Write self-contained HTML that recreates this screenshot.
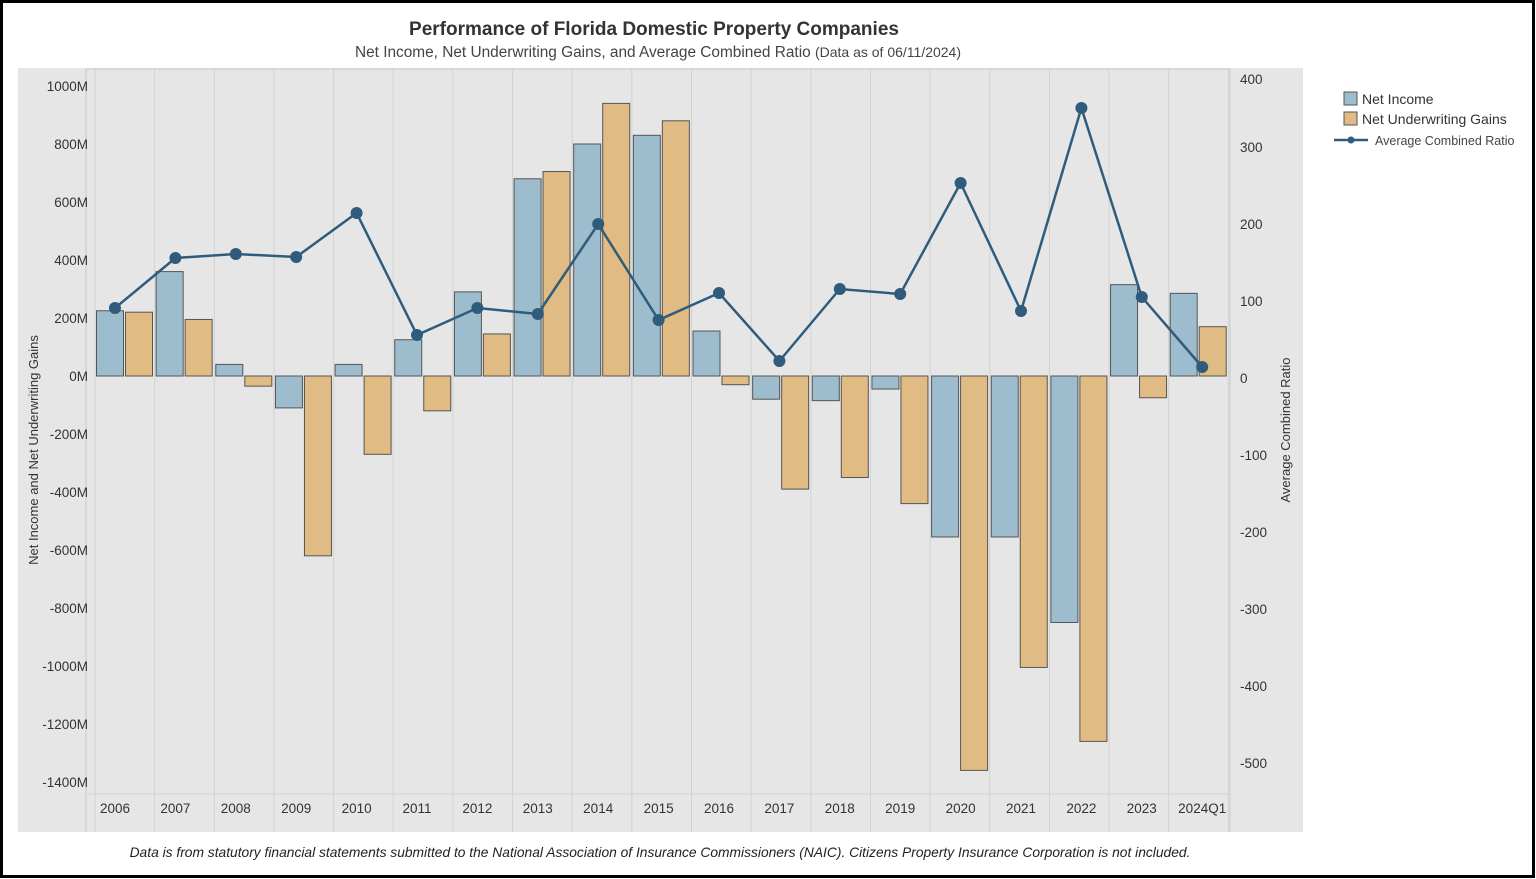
<!DOCTYPE html>
<html><head><style>
body{margin:0;background:#fff;}
svg{display:block;font-family:"Liberation Sans",sans-serif;}
</style></head><body>
<svg width="1536" height="879" xmlns="http://www.w3.org/2000/svg">
<rect x="1.5" y="1.5" width="1532" height="875" fill="#fff" stroke="#000" stroke-width="3"/>
<text x="654" y="35" text-anchor="middle" font-size="19" font-weight="bold" fill="#333">Performance of Florida Domestic Property Companies</text>
<text x="658" y="57" text-anchor="middle" font-size="15.4" fill="#444">Net Income, Net Underwriting Gains, and Average Combined Ratio <tspan font-size="14">(Data as of 06/11/2024)</tspan></text>
<rect x="18" y="68" width="1285" height="764" fill="#e6e6e6"/>
<g id="grid" stroke="#d2d2d2" stroke-width="1"></g>
<line x1="86" y1="69" x2="1230" y2="69" stroke="#c8c8c8"/>
<line x1="86" y1="69" x2="86" y2="832" stroke="#c8c8c8"/>
<line x1="1230" y1="69" x2="1230" y2="832" stroke="#c8c8c8"/>
<line x1="86" y1="794" x2="1230" y2="794" stroke="#d2d2d2"/>
<g id="bars"></g>
<g id="lab" font-size="13.5" fill="#333"></g>
<text transform="translate(38,450) rotate(-90)" text-anchor="middle" font-size="13" fill="#333">Net Income and Net Underwriting Gains</text>
<text transform="translate(1290,430) rotate(-90)" text-anchor="middle" font-size="13" fill="#333">Average Combined Ratio</text>
<rect x="1344" y="92" width="13" height="13" fill="#9dbccd" stroke="#555"/>
<text x="1362" y="104" font-size="14" fill="#333">Net Income</text>
<rect x="1344" y="112" width="13" height="13" fill="#e0bb83" stroke="#555"/>
<text x="1362" y="124" font-size="14" fill="#333">Net Underwriting Gains</text>
<line x1="1334" y1="140" x2="1368" y2="140" stroke="#2f5c7c" stroke-width="2.5"/>
<circle cx="1351" cy="140" r="3.5" fill="#2f5c7c"/>
<text x="1375" y="145" font-size="12.5" fill="#444">Average Combined Ratio</text>
<text x="660" y="857" text-anchor="middle" font-size="13.8" font-style="italic" fill="#222">Data is from statutory financial statements submitted to the National Association of Insurance Commissioners (NAIC). Citizens Property Insurance Corporation is not included.</text>
</svg>
<script>
const ns="http://www.w3.org/2000/svg";
function el(p,t,a,txt){const e=document.createElementNS(ns,t);for(const k in a)e.setAttribute(k,a[k]);if(txt!==undefined)e.textContent=txt;document.getElementById(p).appendChild(e);return e;}
const x0=95,w=59.65,z=376,s=0.29,px0=115,pw=60.4;
const yrs=["2006","2007","2008","2009","2010","2011","2012","2013","2014","2015","2016","2017","2018","2019","2020","2021","2022","2023","2024Q1"];
const ni=[225,360,40,-110,40,125,290,680,800,830,155,-80,-85,-45,-555,-555,-850,315,285];
const nug=[220,195,-35,-620,-270,-120,145,705,940,880,-30,-390,-350,-440,-1360,-1005,-1260,-75,170];
const ly=[308,258,254,257,213,335,308,314,224,320,293,361,289,294,183,311,108,297,367];
for(let i=0;i<=19;i++){el("grid","line",{x1:x0+i*w,y1:69,x2:x0+i*w,y2:832});}
function bar(x,v,c){const y=z-v*s;el("bars","rect",{x:x,y:Math.min(y,z),width:27,height:Math.abs(v*s),fill:c,stroke:"#555","stroke-width":1});}
let pts=[];
for(let i=0;i<19;i++){const b=x0+i*w;bar(b+1.5,ni[i],"#9dbccd");bar(b+30.5,nug[i],"#e0bb83");const px=px0+i*pw;pts.push(px+","+ly[i]);
el("lab","text",{x:px,y:813,"text-anchor":"middle"},yrs[i]);}
el("bars","polyline",{points:pts.join(" "),fill:"none",stroke:"#2f5c7c","stroke-width":2.5});
pts.forEach(p=>{const [a,b]=p.split(",");el("bars","circle",{cx:a,cy:b,r:6,fill:"#2f5c7c"});});
for(let v=1000;v>=-1400;v-=200){el("lab","text",{x:88,y:z-v*s+5,"text-anchor":"end"},v+"M");}
for(let v=400;v>=-500;v-=100){const y=v==400?84:378-v*0.77+5;el("lab","text",{x:1240,y:y},String(v));}
</script>
</body></html>
